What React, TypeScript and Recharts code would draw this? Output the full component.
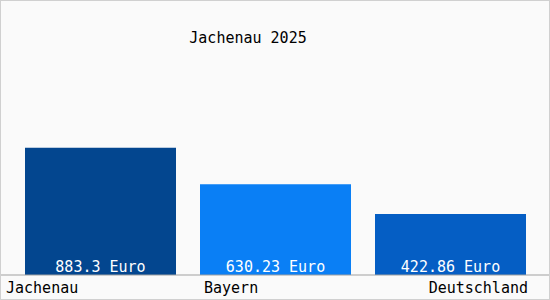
import { BarChart, Bar, XAxis, YAxis, Cell, LabelList } from 'recharts'

const regions = ['Jachenau', 'Bayern', 'Deutschland']
const prices = [883.3, 630.23, 422.86]
const valueLabels = ['883.3', '630.23', '422.86']
const title = 'Jachenau 2025'

const COLORS = ['#03468f', '#0a7ff5', '#055ec4']
const FONT = '"DejaVu Sans Mono", monospace'

const data = regions.map((name, i) => ({ name, value: prices[i], label: valueLabels[i] }))

function RegionTick(props: any) {
  const { x, y, payload, index } = props
  let tx = x - 94.5
  let anchor: 'start' | 'middle' | 'end' = 'start'
  if (index === 1) tx = x - 71.5
  if (index === 2) {
    tx = x + 77.5
    anchor = 'end'
  }
  return (
    <text x={tx} y={y + 18} textAnchor={anchor} fontFamily={FONT} fontSize={15} fill="#000">
      {payload.value}
    </text>
  )
}

function ValueLabel(props: any) {
  const { x, y, width, height, value } = props
  return (
    <text x={x + width / 2} y={y + height - 3} textAnchor="middle" fontFamily={FONT} fontSize={15} fill="#fff">
      {value} Euro
    </text>
  )
}

export default function App() {
  return (
    <div style={{ position: 'absolute', left: 0, top: 0, width: 550, height: 300, background: '#fafafa' }}>
      <BarChart width={550} height={300} data={data} margin={{ top: 131, right: 0, bottom: 0, left: 0 }}>
        <XAxis
          dataKey="name"
          height={25}
          padding={{ left: 13, right: 12 }}
          axisLine={{ stroke: '#a0a0a0' }}
          tickLine={false}
          tickSize={0}
          tickMargin={0}
          interval={0}
          tick={<RegionTick />}
        />
        <YAxis hide domain={[0, 1000]} />
        <Bar dataKey="value" barSize={151} isAnimationActive={false}>
          {data.map((_, i) => (
            <Cell key={`cell-${i}`} fill={COLORS[i % COLORS.length]} />
          ))}
          <LabelList dataKey="label" content={<ValueLabel />} />
        </Bar>
      </BarChart>
      <svg width={550} height={300} style={{ position: 'absolute', left: 0, top: 0, pointerEvents: 'none' }}>
        <text x={248} y={43} textAnchor="middle" fontFamily={FONT} fontSize={15} fill="#000">
          {title}
        </text>
        <rect x={0.5} y={0.5} width={549} height={299} fill="none" stroke="#d0d0d0" />
      </svg>
    </div>
  )
}
